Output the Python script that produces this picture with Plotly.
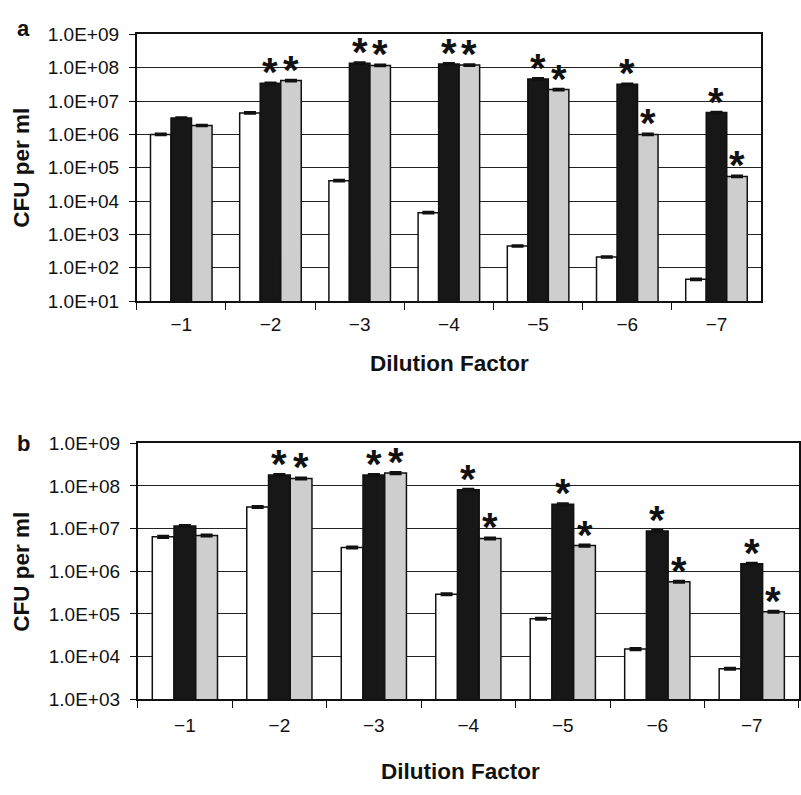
import math
import plotly.graph_objects as go

# Dilution steps shown on the category axis
dilutions = ["\u22121", "\u22122", "\u22123", "\u22124", "\u22125", "\u22126", "\u22127"]

# Panel a: CFU per ml for the three conditions
white_a = [1.0e6, 4.4e6, 4.1e4, 4.5e3, 4.5e2, 2.1e2, 4.5e1]
black_a = [3.1e6, 3.4e7, 1.37e8, 1.3e8, 4.6e7, 3.2e7, 4.5e6]
gray_a = [1.85e6, 4.1e7, 1.17e8, 1.2e8, 2.2e7, 1.0e6, 5.5e4]

# Panel b: CFU per ml for the three conditions
white_b = [6.4e6, 3.2e7, 3.6e6, 2.9e5, 7.7e4, 1.5e4, 5.2e3]
black_b = [1.15e7, 1.8e8, 1.8e8, 8.1e7, 3.7e7, 8.8e6, 1.5e6]
gray_b = [6.9e6, 1.5e8, 2.0e8, 5.9e6, 4.0e6, 5.7e5, 1.13e5]

# Significance markers (1 = asterisk above the bar)
sig_black = [0, 1, 1, 1, 1, 1, 1]
sig_gray = [0, 1, 1, 1, 1, 1, 1]

ytick_vals_a = [1e1, 1e2, 1e3, 1e4, 1e5, 1e6, 1e7, 1e8, 1e9]
ytick_text_a = ["1.0E+01", "1.0E+02", "1.0E+03", "1.0E+04", "1.0E+05",
                "1.0E+06", "1.0E+07", "1.0E+08", "1.0E+09"]
ytick_vals_b = [1e3, 1e4, 1e5, 1e6, 1e7, 1e8, 1e9]
ytick_text_b = ["1.0E+03", "1.0E+04", "1.0E+05", "1.0E+06", "1.0E+07",
                "1.0E+08", "1.0E+09"]

W, H = 801, 795
FONT = "Liberation Sans, Arial, sans-serif"
BARGAP = 0.31
fills = ["#ffffff", "#171717", "#cdcecd"]

fig = go.Figure()


def add_panel(values, xa, ya):
    for vals, fill in zip(values, fills):
        fig.add_trace(go.Bar(
            x=dilutions, y=vals, xaxis=xa, yaxis=ya,
            marker=dict(color=fill, line=dict(color="#111111", width=1.5)),
            error_y=dict(type="percent", value=5, color="#111111",
                         thickness=2.2, width=6),
            showlegend=False,
        ))


add_panel([white_a, black_a, gray_a], "x", "y")
add_panel([white_b, black_b, gray_b], "x2", "y2")


def px_x(x):
    return x / W


def px_y(y):
    return 1 - y / H


axis_common = dict(
    showline=True, linecolor="#111111", linewidth=1.5,
    ticks="outside", tickcolor="#111111", tickwidth=1.3,
    tickfont=dict(family=FONT, size=19, color="#111111"),
)

fig.update_layout(
    width=W, height=H, margin=dict(l=0, r=0, t=0, b=0),
    paper_bgcolor="white", plot_bgcolor="white",
    barmode="group", bargap=BARGAP, bargroupgap=0,
    xaxis=dict(domain=[px_x(137), px_x(763)], anchor="y", type="category",
               tickson="boundaries", ticklen=7, mirror=True, showgrid=False,
               ticklabelstandoff=5, **axis_common),
    yaxis=dict(domain=[px_y(299), px_y(25)], anchor="x", type="log",
               range=[1, 9], tickvals=ytick_vals_a, ticktext=ytick_text_a,
               ticklen=6, mirror=True, showgrid=True, gridcolor="#222222",
               gridwidth=1.3, ticklabelstandoff=6, **axis_common),
    xaxis2=dict(domain=[px_x(138), px_x(801)], anchor="y2", type="category",
                tickson="boundaries", ticklen=7, mirror=True, showgrid=False,
                ticklabelstandoff=8, **axis_common),
    yaxis2=dict(domain=[px_y(708), px_y(445)], anchor="x2", type="log",
                range=[3, 9], tickvals=ytick_vals_b, ticktext=ytick_text_b,
                ticklen=6, mirror=True, showgrid=True, gridcolor="#222222",
                gridwidth=1.3, ticklabelstandoff=6, **axis_common),
)

# Asterisks above significant bars
bw = (1 - BARGAP) / 3
star_font = dict(family=FONT, size=40, color="#111111")
for xr, yr, blk, gry in [("x", "y", black_a, gray_a), ("x2", "y2", black_b, gray_b)]:
    for i in range(len(dilutions)):
        for vals, flags, off in [(blk, sig_black, 0.0), (gry, sig_gray, bw)]:
            if flags[i]:
                fig.add_annotation(
                    x=i + off, y=math.log10(vals[i]), xref=xr, yref=yr,
                    text="<b>*</b>", showarrow=False, font=star_font,
                    yanchor="bottom", yshift=-13,
                )

# Panel letters and axis titles
title_font = dict(family=FONT, size=22.5, color="#111111")
labels = [
    ("<b>a</b>", 24, 19, 0, dict(family=FONT, size=22, color="#111111")),
    ("<b>b</b>", 24, 445, 0, dict(family=FONT, size=22, color="#111111")),
    ("<b>CFU per ml</b>", 22, 162, -90, title_font),
    ("<b>CFU per ml</b>", 22, 577, -90, title_font),
    ("<b>Dilution Factor</b>", 451, 363, 0, title_font),
    ("<b>Dilution Factor</b>", 462, 782, 0, title_font),
]
for text, x, y, ang, f in labels:
    fig.add_annotation(x=px_x(x), y=px_y(y), xref="paper", yref="paper",
                       text=text, showarrow=False, textangle=ang, font=f,
                       xanchor="center", yanchor="middle")

fig.write_html("out.html")
